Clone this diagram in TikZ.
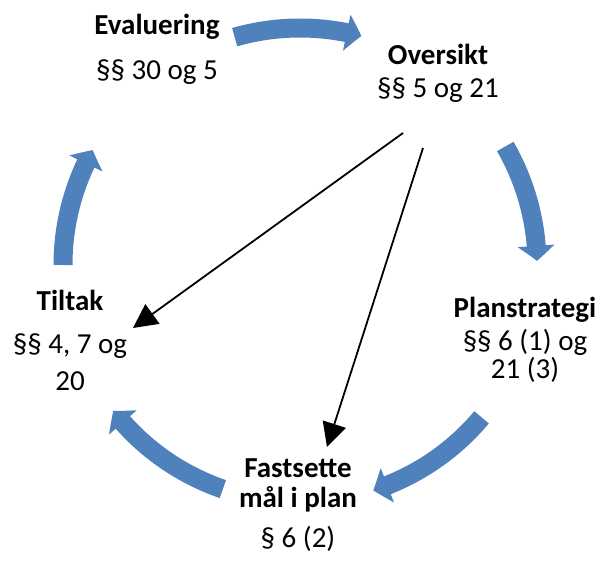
\documentclass[tikz,border=0pt]{standalone}
\usepackage{fontspec}
\setmainfont{Carlito}
\usetikzlibrary{arrows.meta,bending}
\definecolor{officeblue}{RGB}{79,129,189}

\begin{document}
\begin{tikzpicture}[x=1pt,y=1pt,
  box/.style={anchor=base,align=center,inner sep=0pt,font=\fontsize{29}{33}\selectfont},
  cyclearrow/.style={officeblue,line width=19pt,-{Triangle[width=36pt,length=15pt,bend]}},
  link/.style={black,line width=1.8pt,-{Triangle[width=24pt,length=24pt]}}]
\def\r{237}
\useasboundingbox (0,0) rectangle (602,-561);
\coordinate (c) at (300,-265);

% the five steps (placed at the baseline of their last line)
\node[box] (eval) at (157,-80) {\textbf{Evaluering}\\[12pt]§§ 30 og 5};
\node[box] (over) at (438,-98) {\textbf{Oversikt}\\§§ 5 og 21};
\node[box] (plan) at (525,-378) {\textbf{Planstrategi}\\§§ 6 (1) og\\[-5pt]21 (3)};
\node[box] (fast) at (298,-547) {\textbf{Fastsette}\\[-3pt]\textbf{mål i plan}\\[7pt]§ 6 (2)};
\node[box] (tilt) at (70,-390) {\textbf{Tiltak}\\[10pt]§§ 4, 7 og\\[4pt]20};

% blue arrows round the circle
\draw[cyclearrow] (c) ++(106:\r) arc (106:75:\r);   %eval-over
\draw[cyclearrow] (c) ++(30:\r) arc (30:1:\r);      %over-plan
\draw[cyclearrow] (c) ++(-40:\r) arc (-40:-72:\r);  %plan-fast
\draw[cyclearrow] (c) ++(-109:\r) arc (-109:-142:\r); %fast-tilt
\draw[cyclearrow] (c) ++(180:\r) arc (180:151:\r);  %tilt-eval

% shortcuts from Oversikt
\draw[link] ([shift={(-35,-35)}]over.base) -- ([shift={(63,62)}]tilt.base);
\draw[link] ([shift={(-15,-50)}]over.base) -- ([shift={(29,100)}]fast.base);
\end{tikzpicture}
\end{document}
